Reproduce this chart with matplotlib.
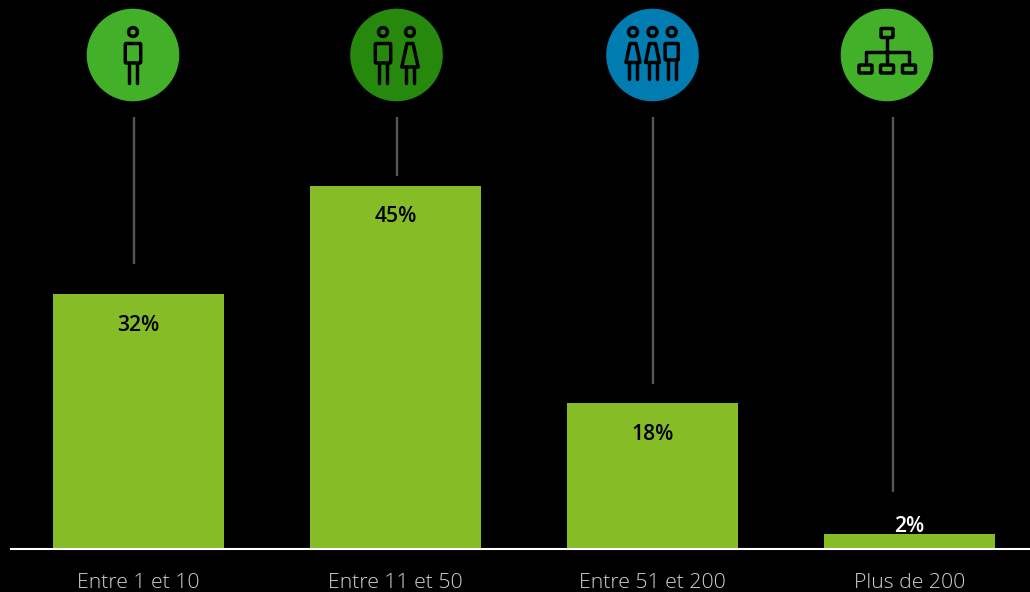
import matplotlib
matplotlib.use('Agg')
import matplotlib.pyplot as plt
from matplotlib.patches import Circle, FancyBboxPatch, Polygon

categories = ['Entre 1 et 10', 'Entre 11 et 50', 'Entre 51 et 200', 'Plus de 200']
values = [31.6, 45, 18.1, 1.8]
value_labels = ['32%', '45%', '18%', '2%']
label_colors = ['black', 'black', 'black', 'white']
circle_colors = ['#43B02A', '#26890D', '#007CB0', '#43B02A']

BAR_COLOR = '#86BC25'
LEADER_COLOR = '#53565A'
W, H = 1030, 592

plt.rcParams['font.family'] = ['Open Sans', 'DejaVu Sans']

fig = plt.figure(figsize=(W / 100, H / 100), dpi=100, facecolor='black')

# bars: 257 px between categories, 8.07 px per percent, baseline at y=549
ax = fig.add_axes([11 / W, (H - 549) / H, (W - 11) / W, 549 / H], facecolor='none')
positions = list(range(len(categories)))
ax.bar(positions, values, width=0.667, color=BAR_COLOR)
ax.set_xlim((11 - 138.7) / 257, (W - 138.7) / 257)
ax.set_ylim(0, 549 / 8.07)
ax.set_xticks(positions)
ax.set_xticklabels(categories, color='#D0D0D0', fontsize=15.3, fontweight='light')
ax.tick_params(axis='x', length=0, pad=17)
ax.set_yticks([])
for s in ['top', 'left', 'right']:
    ax.spines[s].set_visible(False)
ax.spines['bottom'].set_color('white')
ax.spines['bottom'].set_linewidth(1.5)

for i, v in enumerate(values):
    # small bars get the label above, the others inside
    y = v + 1.0 if v < 5 else v - 3.85
    ax.text(i, y, value_labels[i], ha='center', va='center', color=label_colors[i],
            fontsize=15.2, fontweight='semibold')

# overlay in pixel coordinates for the icons and leader lines
ov = fig.add_axes([0, 0, 1, 1], facecolor='none')
ov.set_xlim(0, W)
ov.set_ylim(H, 0)
ov.axis('off')

for x, y_end in zip([133.5, 396.5, 653, 893], [264, 176, 384, 492]):
    ov.plot([x, x], [117, y_end], color=LEADER_COLOR, lw=1.7, solid_capstyle='butt')

LW = 2.5


def stroke(xs, ys):
    ov.plot(xs, ys, color='black', lw=LW, solid_capstyle='round', solid_joinstyle='round')


def head(x):
    ov.add_patch(Circle((x, 32), 4.4, fc='none', ec='black', lw=LW))


def man(x, top=43.5, bottom=63, foot=82.5, half=7.7):
    head(x)
    ov.add_patch(FancyBboxPatch((x - half, top), half * 2, bottom - top, boxstyle='round,pad=0,rounding_size=1',
                                fc='none', ec='black', lw=LW))
    stroke([x - 4, x - 4], [bottom, foot])
    stroke([x + 4, x + 4], [bottom, foot])


def woman(x, base=67, foot=82.5, half=8.2):
    head(x)
    ov.add_patch(Polygon([(x - 3, 43.5), (x + 3, 43.5), (x + half, base), (x - half, base)], closed=True,
                         fc='none', ec='black', lw=LW, joinstyle='round'))
    stroke([x - 4, x - 4], [base, foot])
    stroke([x + 4, x + 4], [base, foot])


def box(cx, cy, w, h):
    ov.add_patch(FancyBboxPatch((cx - w / 2, cy - h / 2), w, h, boxstyle='round,pad=0,rounding_size=1',
                                fc='none', ec='black', lw=LW))


for cx, color in zip([133, 396.5, 652.5, 887], circle_colors):
    ov.add_patch(Circle((cx, 55), 46.3, fc=color, ec='none'))

man(133)
man(383)
woman(410)
woman(633, base=62.5, foot=79, half=7)
woman(652.5, base=62.5, foot=79, half=7)
man(671.7, top=43.5, bottom=60, foot=79, half=6.6)

box(887, 33, 12, 9)
stroke([887, 887], [38, 64])
stroke([865.5, 865.5, 909, 909], [64, 51.5, 51.5, 64])
for cx in [865.5, 887, 909]:
    box(cx, 69, 13, 8)

fig.savefig('out.png', dpi=100, facecolor='black')
